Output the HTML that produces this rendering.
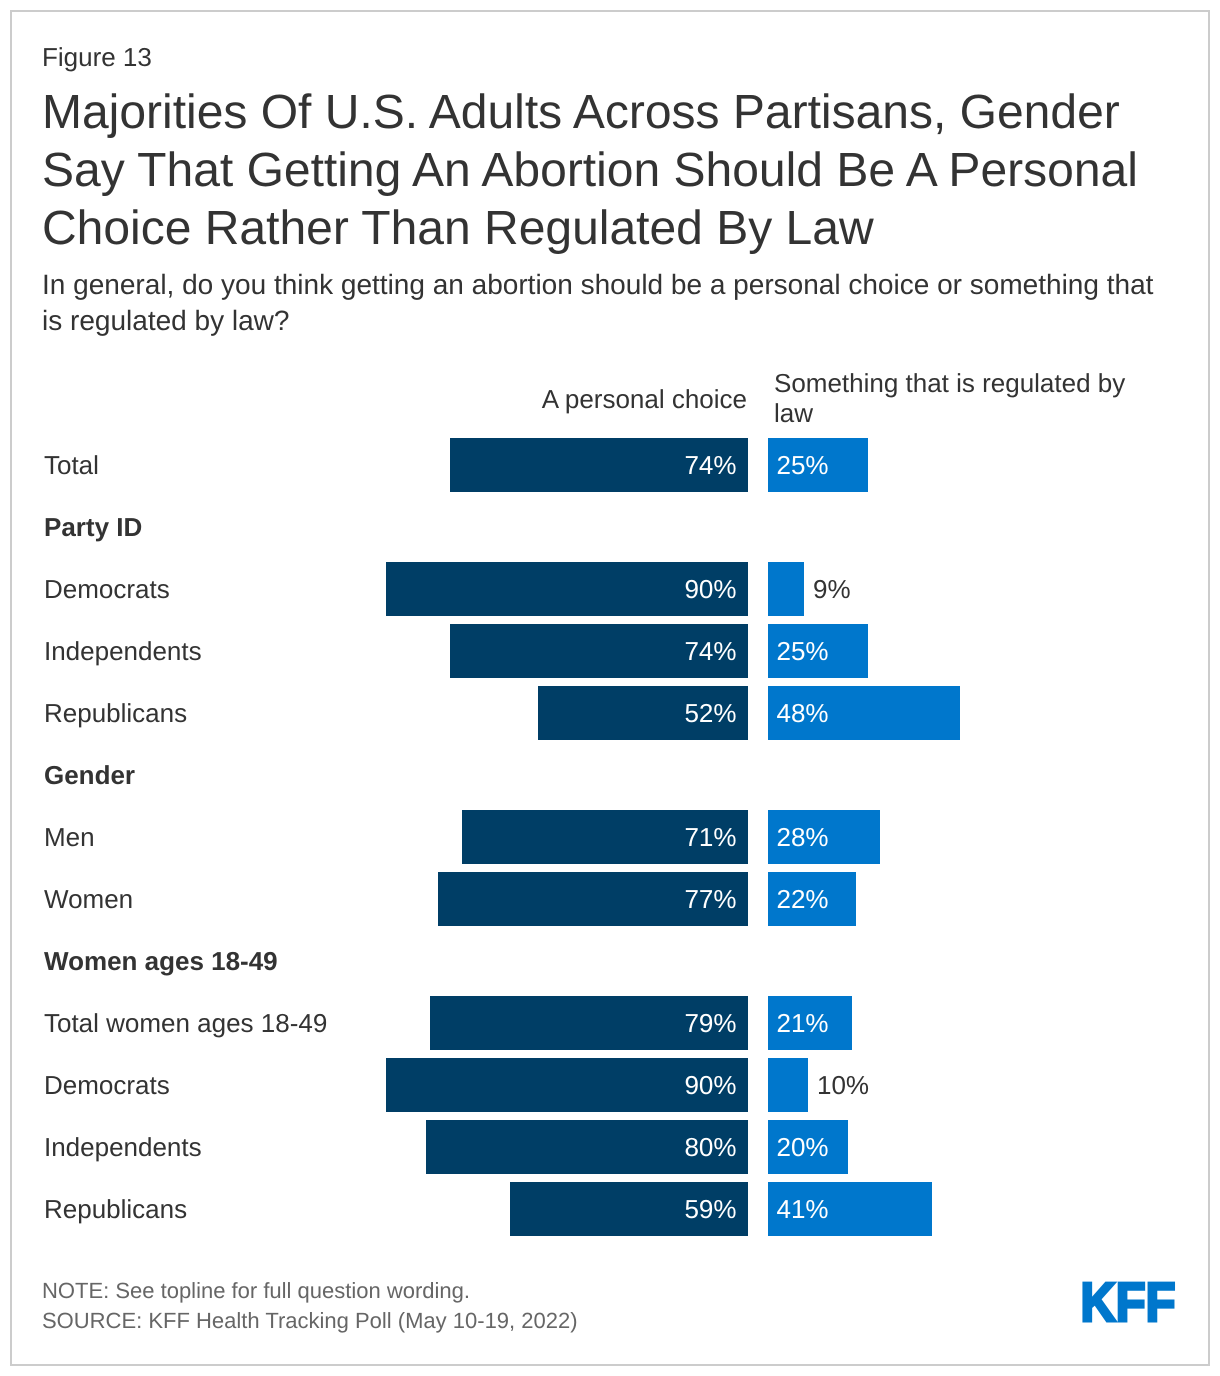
<!DOCTYPE html>
<html lang="en">
<head>
<meta charset="utf-8">
<title>KFF Figure 13</title>
<style>
html,body{margin:0;padding:0;background:#fff;width:1220px;height:1376px;overflow:hidden}
svg{display:block}
text{font-family:"Liberation Sans",Arial,sans-serif;fill:#333;text-rendering:geometricPrecision}
</style>
</head>
<body>
<svg id="chart" xmlns="http://www.w3.org/2000/svg" width="1220" height="1376" viewBox="0 0 1220 1376">
  <rect x="11" y="11" width="1198" height="1354" fill="#fff" stroke="#ccc" stroke-width="2"/>
  <text x="42" y="66" font-size="26">Figure 13</text>
  <g font-size="48">
    <text x="42" y="128">Majorities Of U.S. Adults Across Partisans, Gender</text>
    <text x="42" y="186">Say That Getting An Abortion Should Be A Personal</text>
    <text x="42" y="244">Choice Rather Than Regulated By Law</text>
  </g>
  <g font-size="28">
    <text x="42" y="294">In general, do you think getting an abortion should be a personal choice or something that</text>
    <text x="42" y="330">is regulated by law?</text>
  </g>
  <text x="747" y="408" font-size="26" text-anchor="end">A personal choice</text>
  <g font-size="26">
    <text x="774" y="392">Something that is regulated by</text>
    <text x="774" y="422">law</text>
  </g>
  <g id="rows"></g>
  <g font-size="22" style="fill:#666">
    <text x="42" y="1298" style="fill:#666">NOTE: See topline for full question wording.</text>
    <text x="42" y="1328" style="fill:#666">SOURCE: KFF Health Tracking Poll (May 10-19, 2022)</text>
  </g>
  <text x="1080.5" y="1321" font-size="55" font-weight="700" textLength="95" lengthAdjust="spacingAndGlyphs" style="fill:#0077cc;stroke:#0077cc;stroke-width:3">KFF</text>
</svg>
<script>
const categories = ["Total", "Party ID", "Democrats", "Independents", "Republicans", "Gender", "Men", "Women", "Women ages 18-49", "Total women ages 18-49", "Democrats", "Independents", "Republicans"];
const personalChoice = [74.5, null, 90.5, 74.5, 52.5, null, 71.5, 77.5, null, 79.5, 90.5, 80.5, 59.5];
const regulatedByLaw = [25, null, 9, 25, 48, null, 28, 22, null, 21, 10, 20, 41];
const personalLabels = ["74%", "", "90%", "74%", "52%", "", "71%", "77%", "", "79%", "90%", "80%", "59%"];
const regulatedLabels = ["25%", "", "9%", "25%", "48%", "", "28%", "22%", "", "21%", "10%", "20%", "41%"];

const NS = "http://www.w3.org/2000/svg";
const rowsGroup = document.getElementById("rows");
const scaleX = v => v * 4;
const rowTop = i => 438 + i * 62;
const BAR_H = 54;
const LEFT_BASE = 748;
const RIGHT_BASE = 768;

function addText(str, x, y, anchor, fill, weight) {
  const t = document.createElementNS(NS, "text");
  t.setAttribute("x", x);
  t.setAttribute("y", y);
  t.setAttribute("font-size", "26");
  t.setAttribute("text-anchor", anchor);
  t.style.fill = fill;
  if (weight) t.setAttribute("font-weight", weight);
  t.textContent = str;
  rowsGroup.appendChild(t);
  return t;
}
function addBar(x, y, w, fill) {
  const r = document.createElementNS(NS, "rect");
  r.setAttribute("x", x);
  r.setAttribute("y", y);
  r.setAttribute("width", w);
  r.setAttribute("height", BAR_H);
  r.setAttribute("fill", fill);
  rowsGroup.appendChild(r);
  return r;
}

categories.forEach((cat, i) => {
  const top = rowTop(i);
  const baseline = top + 36;
  const isHeader = personalChoice[i] === null;
  const label = addText(cat, 44, baseline, "start", "#333", isHeader ? "700" : null);
  
  
  if (isHeader) return;

  const lw = scaleX(personalChoice[i]);
  const leftBar = addBar(LEFT_BASE - lw, top, lw, "#003e66");
  
  
  const leftValue = addText(personalLabels[i], LEFT_BASE - 11.5, baseline, "end", "#fff");
  
  

  const rw = scaleX(regulatedByLaw[i]);
  const rightBar = addBar(RIGHT_BASE, top, rw, "#0077cc");
  
  
  const inside = rw > 60;
  const rightValue = addText(regulatedLabels[i], inside ? RIGHT_BASE + 8.5 : RIGHT_BASE + rw + 9, baseline, "start", inside ? "#fff" : "#333");
  
  
});
</script>
</body>
</html>
